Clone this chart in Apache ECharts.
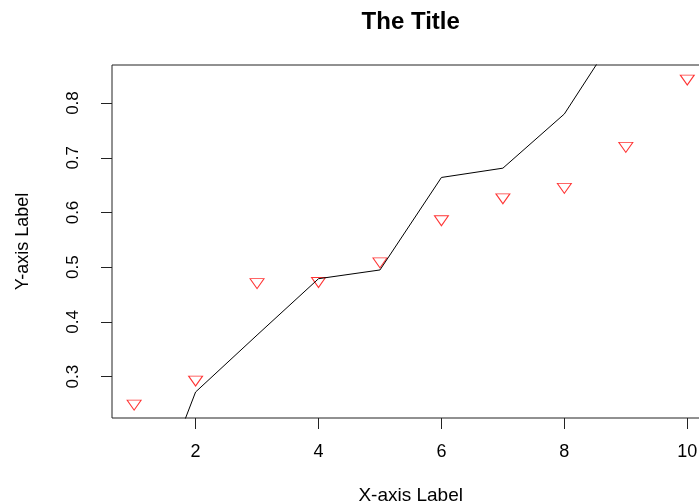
<!DOCTYPE html>
<html>
<head>
<meta charset="utf-8">
<title>The Title</title>
<script src="https://cdn.jsdelivr.net/npm/echarts@6/dist/echarts.min.js"></script>
<style>
  html, body { margin: 0; padding: 0; background: #fff; }
  #chart { width: 699px; height: 504px; }
</style>
</head>
<body>
<div id="chart"></div>
<script>
// Observations: x positions with their marker values
const xValues = [1, 2, 3, 4, 5, 6, 7, 8, 9, 10];
const pointValues = [0.248, 0.292, 0.470, 0.472, 0.508, 0.585, 0.625, 0.644, 0.719, 0.842];

// Reference curve drawn as a plain line
const lineX = [1, 2, 3, 4, 5, 6, 7, 8, 9];
const lineValues = [-0.020, 0.272, 0.376, 0.479, 0.495, 0.664, 0.681, 0.780, 0.953];

// Tick labels
const xTicks = [2, 4, 6, 8, 10];
const yTicks = [0.3, 0.4, 0.5, 0.6, 0.7, 0.8];

const FONT = "'Liberation Sans', Arial, sans-serif";
const INK = '#222';

const chart = echarts.init(document.getElementById('chart'), null, { renderer: 'canvas' });

chart.setOption({
  animation: false,
  backgroundColor: '#fff',
  title: {
    text: 'The Title',
    left: 410.7,
    textAlign: 'center',
    top: 10,
    padding: 0,
    textStyle: { fontFamily: FONT, fontSize: 24, fontWeight: 'bold', color: '#000' }
  },
  grid: {
    left: 112,
    top: 65,
    width: 597.4,
    height: 353,
    show: true,
    borderColor: INK,
    borderWidth: 1,
    backgroundColor: 'transparent',
    containLabel: false,
    outerBoundsMode: 'none'
  },
  xAxis: {
    type: 'value',
    min: 0.64,
    max: 10.36,
    name: 'X-axis Label',
    nameLocation: 'middle',
    nameGap: 77.8,
    nameTextStyle: { fontFamily: FONT, fontSize: 19, color: '#000', verticalAlign: 'middle' },
    axisLine: { show: false },
    splitLine: { show: false },
    axisTick: {
      show: true, inside: false, length: 11,
      customValues: xTicks,
      lineStyle: { color: INK, width: 1 }
    },
    axisLabel: {
      customValues: xTicks,
      margin: 33.7,
      verticalAlign: 'middle',
      fontFamily: FONT, fontSize: 18, color: '#000'
    }
  },
  yAxis: {
    type: 'value',
    min: 0.2245,
    max: 0.8695,
    name: 'Y-axis Label',
    nameLocation: 'middle',
    nameGap: 89.2,
    nameTextStyle: { fontFamily: FONT, fontSize: 18, color: '#000', verticalAlign: 'middle', align: 'center' },
    axisLine: { show: false },
    splitLine: { show: false },
    axisTick: {
      show: true, inside: false, length: 11,
      customValues: yTicks,
      lineStyle: { color: INK, width: 1 }
    },
    axisLabel: {
      customValues: yTicks,
      rotate: 90,
      margin: 38.5,
      align: 'center',
      verticalAlign: 'middle',
      formatter: v => v.toFixed(1),
      fontFamily: FONT, fontSize: 17, color: '#000'
    }
  },
  series: [
    {
      type: 'scatter',
      z: 2,
      data: xValues.map((x, i) => [x, pointValues[i]]),
      symbol: 'triangle',
      symbolRotate: 180,
      symbolSize: [14, 10],
      itemStyle: { color: 'rgba(255,255,255,0)', borderColor: '#ff0000', borderWidth: 1 },
      emphasis: { disabled: true }
    },
    {
      type: 'line',
      z: 3,
      clip: true,
      data: lineX.map((x, i) => [x, lineValues[i]]),
      showSymbol: false,
      symbol: 'none',
      lineStyle: { color: '#000', width: 1 },
      emphasis: { disabled: true }
    }
  ]
});
</script>
</body>
</html>
